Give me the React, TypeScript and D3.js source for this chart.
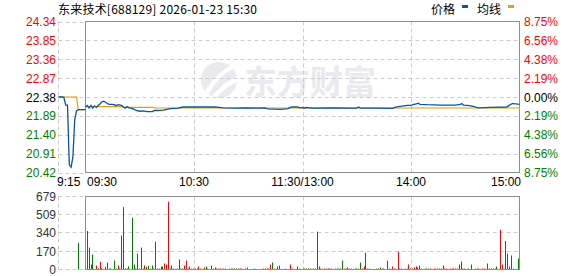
import React from "react";
import * as d3 from "d3";

// ---------- data ----------
const titleText = "东来技术[688129] 2026-01-23 15:30";
const legendPrice = "价格";
const legendAvg = "均线";
const watermarkText = "东方财富";

const priceTicks = [24.34, 23.85, 23.36, 22.87, 22.38, 21.89, 21.4, 20.91, 20.42];
const priceTickLabels = ["24.34", "23.85", "23.36", "22.87", "22.38", "21.89", "21.40", "20.91", "20.42"];
const pctTickLabels = ["8.75%", "6.56%", "4.38%", "2.19%", "0.00%", "2.19%", "4.38%", "6.56%", "8.75%"];
const prevClose = 22.38;
const volTicks = [679, 509, 340, 170, 0];
const timeLabels = ["09:30", "10:30", "11:30/13:00", "14:00", "15:00"];
const timeLabelMinutes = [0, 60, 120, 180, 240];
const preLabel = "9:15";

// pre-market (minutes after 9:15)
const preMinutes = [0, 1, 2, 3, 4, 5, 6, 7, 8, 9, 10, 11, 12, 13, 14, 15];
const prePrice = [22.38, 22.38, 22.38, 22.37, 22.17, 22.17, 20.62, 20.56, 20.82, 21.78, 22.02, 22.05, 22.05, 22.05, 22.05, 22.05];
const preAvg = [22.38, 22.38, 22.38, 22.38, 22.38, 22.38, 22.38, 22.38, 22.38, 22.38, 22.38, 22.05, 22.05, 22.05, 22.05, 22.05];
const preVolMinutes = [10];
const preVolValues = [247];
const preVolDirs = ["d"];

// main session (minutes after 9:30, lunch removed)
const priceMinutes = [0, 1, 2, 3, 4, 5, 6, 7, 8, 9, 10, 11, 12, 13, 15, 17, 18, 20, 21, 22, 23, 24, 25, 27, 28, 30, 32, 34, 37, 38, 40, 43, 45, 47, 51, 54, 71, 74, 76, 84, 88, 95, 99, 101, 108, 112, 114, 117, 119, 120, 121, 122, 124, 126, 137, 146, 150, 151, 152, 161, 170, 171, 173, 176, 178, 180, 181, 183, 184, 185, 189, 196, 204, 207, 208, 209, 211, 213, 215, 217, 224, 233, 234, 236, 238, 240];
const priceValues = [22.12, 22.16, 22.09, 22.16, 22.09, 22.15, 22.11, 22.16, 22.2, 22.25, 22.27, 22.25, 22.21, 22.19, 22.19, 22.16, 22.18, 22.16, 22.12, 22.09, 22.13, 22.1, 22.09, 22.06, 22.03, 22.01, 22.02, 22.0, 22.0, 22.03, 22.03, 22.04, 22.06, 22.08, 22.09, 22.12, 22.12, 22.11, 22.1, 22.09, 22.1, 22.09, 22.1, 22.07, 22.06, 22.08, 22.12, 22.12, 22.1, 22.11, 22.09, 22.11, 22.1, 22.09, 22.1, 22.09, 22.09, 22.12, 22.09, 22.09, 22.085, 22.11, 22.13, 22.15, 22.16, 22.16, 22.18, 22.2, 22.22, 22.19, 22.18, 22.17, 22.17, 22.18, 22.21, 22.17, 22.16, 22.15, 22.13, 22.1, 22.11, 22.12, 22.155, 22.21, 22.2, 22.19];
const avgMinutes = [0, 20, 21, 37, 38, 240];
const avgValues = [22.13, 22.13, 22.11, 22.11, 22.094, 22.094];

const volMinutes = [0, 1, 2, 3, 5, 6, 7, 8, 10, 11, 12, 13, 15, 16, 17, 18, 19, 20, 21, 22, 23, 25, 26, 27, 28, 29, 30, 31, 32, 33, 34, 35, 36, 37, 38, 39, 40, 41, 42, 43, 44, 45, 46, 47, 48, 50, 51, 52, 53, 54, 55, 56, 57, 58, 59, 60, 61, 62, 63, 65, 66, 67, 69, 70, 71, 72, 73, 74, 76, 77, 79, 80, 81, 82, 83, 84, 85, 86, 88, 89, 93, 98, 99, 100, 101, 102, 103, 104, 106, 107, 110, 113, 114, 117, 118,
  120, 121, 122, 123, 124, 126, 127, 128, 129, 130, 132, 133, 134, 135, 136, 138, 139, 140, 141, 142, 143, 144, 145, 146, 147, 149, 150, 151, 152, 153, 154, 155, 156, 157, 161, 162, 163, 164, 165, 167, 168, 170, 171, 173, 174, 175, 177, 178, 179, 180, 181, 182, 183, 184, 185, 186, 188, 189, 190, 191, 193, 194, 195, 196, 197, 198, 199, 200, 202, 203, 204, 205, 206, 207, 208, 209, 210, 212, 214, 216, 217, 218, 220, 221, 223, 224, 225, 226, 227, 228, 230, 231, 233, 234, 235, 236, 237, 240];
const volValues = [358, 204, 46, 139, 37, 12, 71, 12, 25, 65, 9, 9, 83, 9, 37, 9, 315, 580, 9, 9, 28, 481, 46, 9, 148, 9, 204, 9, 37, 25, 34, 9, 37, 9, 259, 9, 9, 28, 28, 56, 46, 630, 9, 37, 9, 9, 93, 9, 9, 37, 83, 9, 28, 9, 9, 9, 9, 28, 9, 19, 28, 9, 37, 9, 19, 9, 9, 9, 9, 9, 9, 9, 9, 9, 9, 9, 9, 9, 9, 19, 9, 9, 9, 9, 9, 46, 65, 9, 28, 37, 9, 46, 9, 28, 9,
  9, 9, 9, 9, 9, 9, 9, 352, 28, 9, 9, 9, 9, 9, 9, 9, 9, 9, 9, 83, 9, 9, 19, 9, 9, 9, 9, 9, 65, 9, 28, 157, 9, 9, 9, 9, 19, 9, 9, 83, 9, 28, 9, 167, 9, 9, 9, 9, 46, 9, 9, 19, 28, 19, 37, 9, 9, 9, 9, 9, 9, 9, 9, 9, 9, 37, 9, 9, 9, 9, 9, 9, 9, 46, 74, 9, 9, 9, 46, 9, 9, 9, 9, 9, 56, 9, 9, 9, 9, 28, 370, 46, 265, 148, 28, 130, 9, 102];
const volDirs = ["u", "d", "u", "d", "u", "d", "u", "d", "u", "d", "u", "d", "d", "d", "u", "d", "d", "d", "u", "u", "d", "d", "d", "u", "u", "d", "d", "d", "u", "d", "d", "u", "d", "u", "u", "d", "u", "d", "d", "u", "u", "u", "d", "u", "u", "d", "u", "d", "d", "u", "u", "u", "u", "u", "d", "d", "d", "u", "u", "u", "d", "u", "u", "u", "u", "u", "u", "u", "d", "u", "d", "d", "u", "d", "d", "u", "u", "u", "u", "u", "d", "u", "u", "d", "u", "u", "d", "u", "d", "u", "u", "u", "u", "u", "u",
  "u", "d", "d", "u", "d", "d", "d", "d", "d", "u", "d", "u", "u", "u", "u", "u", "u", "d", "d", "d", "u", "u", "d", "d", "d", "u", "d", "u", "d", "u", "u", "d", "u", "u", "d", "d", "d", "u", "d", "d", "u", "u", "u", "u", "u", "u", "u", "u", "u", "d", "u", "u", "u", "u", "d", "d", "d", "d", "d", "u", "u", "u", "u", "u", "u", "u", "u", "u", "u", "u", "u", "u", "u", "u", "d", "u", "d", "d", "u", "d", "u", "u", "u", "u", "u", "d", "u", "d", "u", "d", "u", "u", "u", "d", "u", "u", "u", "d", "d"];

// ---------- styling ----------
const RED = "#ff0000";
const GREEN = "#008000";
const BLUE = "#0b54a4";
const ORANGE = "#e0a010";
const GRID = "#cccccc";
const BORDER = "#8f8f8f";
const NUMFONT = "'Liberation Sans', Arial, sans-serif";
const CJKFONT = "'Noto Sans CJK SC', sans-serif";

const W = 578, H = 276;
const preLeft = 58.5, left = 85.5, right = 519.5;
const top = 21.5, bottom = 172.5;
const vTop = 196.5, vBottom = 269.5;

export default function App() {
  const xPre = d3.scaleLinear().domain([0, 15]).range([preLeft, left]);
  const xMain = d3.scaleLinear().domain([0, 240]).range([left, right]);
  const xBar = d3.scaleLinear().domain([0, 240]).range([87, 518]);
  const y = d3.scaleLinear().domain([20.42, 24.34]).range([bottom, top]);
  const yV = d3.scaleLinear().domain([0, 679]).range([vBottom, vTop]);

  const preLine = d3.line<number>().x((_, i) => xPre(preMinutes[i])).y((v) => y(v));
  const mainLine = d3.line<number>().x((_, i) => xMain(priceMinutes[i])).y((v) => y(v));
  const avgLine = d3.line<number>().x((_, i) => xMain(avgMinutes[i])).y((v) => y(v));

  const labelColor = (i: number) => (i < 4 ? RED : i === 4 ? "#000" : GREEN);
  const vgridMin = [60, 120, 180];

  return (
    <svg width={W} height={H} style={{ position: "absolute", left: 0, top: 0, background: "#fff" }}>
      {/* watermark */}
      <g fill="#e9e9ee">
        <circle cx={219} cy={80} r={18} />
        <path d="M204,92 C212,80 222,68 236,63 L237,67 C224,72 214,84 208,96 Z" fill="#fff" />
        <path d="M210,98 C218,88 228,80 238,76 L238,81 C230,85 221,92 215,100 Z" fill="#fff" />
        <text x={244} y={94} fontFamily={CJKFONT} fontWeight="bold" fontSize={33}>{watermarkText}</text>
      </g>

      {/* title & legend */}
      <text x={58} y={14} fontFamily={CJKFONT} fontSize={12} fill="#000" textLength={199} lengthAdjust="spacing">{titleText}</text>
      <text x={431} y={14} fontFamily={CJKFONT} fontSize={12} fill="#000">{legendPrice}</text>
      <rect x={462} y={5} width={6} height={3} fill={BLUE} />
      <text x={477} y={14} fontFamily={CJKFONT} fontSize={12} fill="#000">{legendAvg}</text>
      <rect x={508} y={5} width={6} height={3} fill={ORANGE} />

      {/* price grid */}
      <g stroke={GRID} strokeDasharray="4,3" fill="none">
        {priceTicks.map((t, i) => (
          <line key={i} x1={preLeft} x2={i === 0 || i === 8 ? left : right} y1={Math.round(y(t)) + 0.5} y2={Math.round(y(t)) + 0.5} />
        ))}
        <line x1={preLeft} x2={preLeft} y1={top} y2={bottom} />
        {vgridMin.map((m) => (
          <line key={m} x1={Math.round(xMain(m)) + 0.5} x2={Math.round(xMain(m)) + 0.5} y1={top} y2={bottom} />
        ))}
      </g>
      <rect x={left} y={top} width={right - left} height={bottom - top} fill="none" stroke={BORDER} />

      {/* price labels */}
      {priceTicks.map((t, i) => (
        <text key={"l" + i} x={56} y={y(t) + 4.5} textAnchor="end" fontFamily={NUMFONT} fontSize={12} fill={labelColor(i)}>{priceTickLabels[i]}</text>
      ))}
      {priceTicks.map((t, i) => (
        <text key={"r" + i} x={524} y={y(t) + 4.5} fontFamily={NUMFONT} fontSize={12} fill={labelColor(i)}>{pctTickLabels[i]}</text>
      ))}

      {/* lines */}
      <path d={preLine(preAvg) || ""} fill="none" stroke={ORANGE} strokeWidth={1.2} />
      <path d={avgLine(avgValues) || ""} fill="none" stroke={ORANGE} strokeWidth={1.2} />
      <path d={preLine(prePrice) || ""} fill="none" stroke={BLUE} strokeWidth={1.3} />
      <path d={mainLine(priceValues) || ""} fill="none" stroke={BLUE} strokeWidth={1.3} />

      {/* time labels */}
      <text x={57} y={186} fontFamily={NUMFONT} fontSize={12} fill="#000">{preLabel}</text>
      {timeLabels.map((t, i) => (
        <text key={t} x={i === 0 ? 87 : i === 4 ? 521 : xMain(timeLabelMinutes[i])} y={186}
          textAnchor={i === 0 ? "start" : i === 4 ? "end" : "middle"} fontFamily={NUMFONT} fontSize={12} fill="#000">{t}</text>
      ))}

      {/* volume grid */}
      <g stroke={GRID} strokeDasharray="4,3" fill="none">
        {volTicks.map((t, i) => (
          <line key={i} x1={preLeft} x2={i === 0 || i === 4 ? left : right} y1={Math.round(yV(t) - 0.5) + 0.5} y2={Math.round(yV(t) - 0.5) + 0.5} />
        ))}
        <line x1={preLeft} x2={preLeft} y1={vTop} y2={vBottom} />
        {vgridMin.map((m) => (
          <line key={m} x1={Math.round(xMain(m)) + 0.5} x2={Math.round(xMain(m)) + 0.5} y1={vTop} y2={vBottom} />
        ))}
      </g>
      {volTicks.map((t) => (
        <text key={t} x={56} y={yV(t) + 4.5} textAnchor="end" fontFamily={NUMFONT} fontSize={12} fill="#333">{t}</text>
      ))}

      {/* volume bars */}
      {preVolValues.map((v, i) => (
        <rect key={"p" + i} x={Math.round(xPre(preVolMinutes[i]) + 1.3)} y={yV(v)} width={1} height={vBottom - yV(v)} fill={preVolDirs[i] === "u" ? RED : GREEN} />
      ))}
      {volValues.map((v, i) => (
        <rect key={i} x={Math.round(xBar(volMinutes[i]))} y={yV(v)} width={1} height={vBottom - yV(v)} fill={volDirs[i] === "u" ? RED : GREEN} />
      ))}
      <rect x={left} y={vTop} width={right - left} height={vBottom - vTop} fill="none" stroke={BORDER} />
    </svg>
  );
}
